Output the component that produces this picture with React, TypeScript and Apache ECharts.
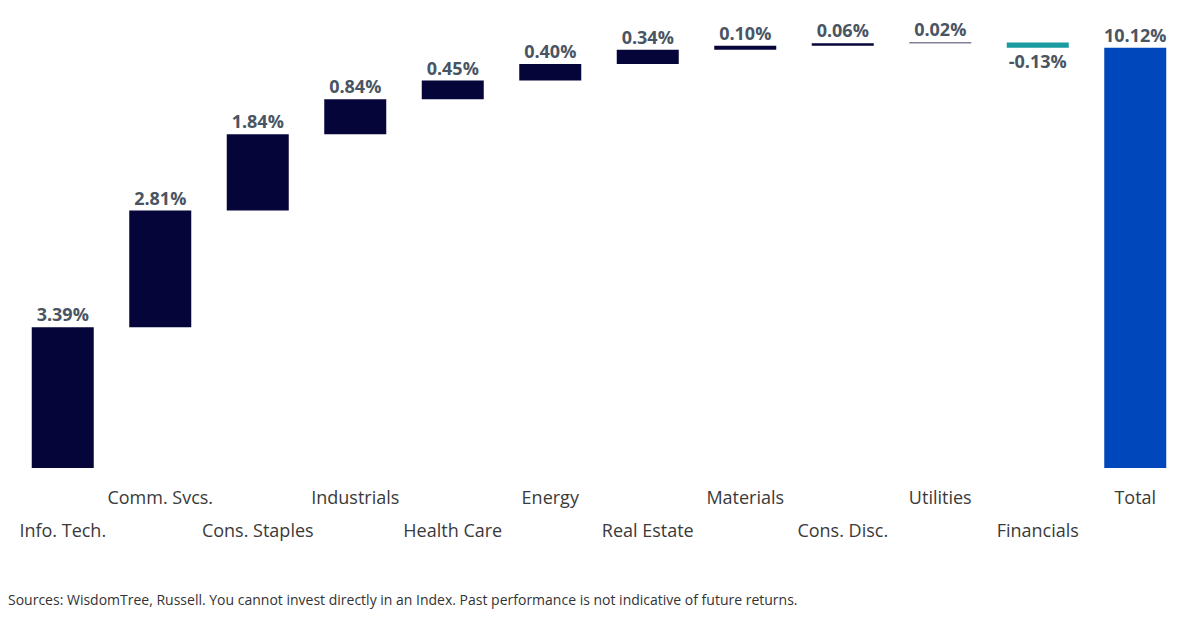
import React, { useEffect, useRef } from "react";
import * as echarts from "echarts";

const categories = ["Info. Tech.", "Comm. Svcs.", "Cons. Staples", "Industrials", "Health Care", "Energy", "Real Estate", "Materials", "Cons. Disc.", "Utilities", "Financials", "Total"];
const values = [3.39, 2.81, 1.84, 0.84, 0.45, 0.40, 0.34, 0.10, 0.06, 0.02, -0.13, 10.12];
const source = "Sources: WisdomTree, Russell. You cannot invest directly in an Index. Past performance is not indicative of future returns.";

export default function App() {
  const ref = useRef<HTMLDivElement>(null);
  useEffect(() => {
    document.body.style.margin = "0";
    const chart = echarts.init(ref.current!, null, { renderer: "svg" });
    const bases: number[] = [];
    const heights: number[] = [];
    let cum = 0;
    values.forEach((v, i) => {
      if (i === values.length - 1) { bases.push(0); heights.push(v); return; }
      if (v >= 0) { bases.push(cum); heights.push(v); } else { bases.push(cum + v); heights.push(-v); }
      cum += v;
    });
    const colorFor = (i: number) => i === values.length - 1 ? "#0047bb" : values[i] < 0 ? "#1a9ba1" : "#05053a";
    chart.setOption({
      animation: false,
      grid: { left: 14, right: 16, top: 32, bottom: 153 },
      xAxis: {
        type: "category", data: categories,
        axisLine: { show: false }, axisTick: { show: false },
        axisLabel: {
          interval: 0, margin: 12, fontSize: 18, lineHeight: 33, color: "#3a3a3a", fontFamily: "Open Sans",
          formatter: (n: string) => categories.indexOf(n) % 2 === 0 && n !== "Total" ? "\n" + n : n,
        },
      },
      yAxis: { type: "value", min: 0, max: 10.5, show: false, splitLine: { show: false } },
      series: [
        { type: "bar", stack: "w", data: bases, itemStyle: { color: "transparent" }, silent: true },
        {
          type: "bar", stack: "w", barWidth: 62,
          data: heights.map((h, i) => ({
            value: h, itemStyle: { color: colorFor(i) },
            label: { position: values[i] < 0 ? "bottom" : "top" },
          })),
          label: {
            show: true, fontSize: 18, fontWeight: "bold", color: "#4a5563", fontFamily: "Open Sans", distance: 4,
            formatter: (p: any) => values[p.dataIndex].toFixed(2) + "%",
          },
        },
      ],
      graphic: [{ type: "text", left: 8, top: 592, style: { text: source, fontSize: 14, fill: "#333", fontFamily: "Open Sans" } }],
    });
    return () => chart.dispose();
  }, []);
  return <div ref={ref} style={{ width: 1200, height: 621 }} />;
}
